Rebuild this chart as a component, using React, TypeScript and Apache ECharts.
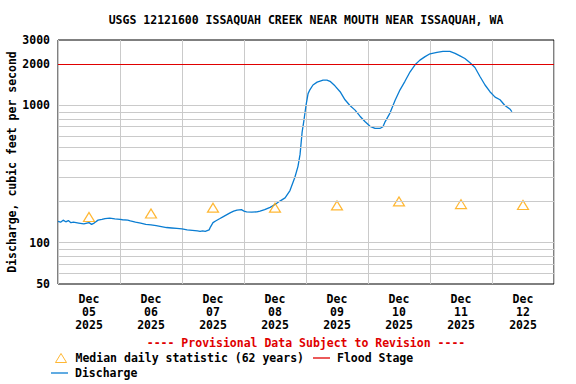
import React, { useEffect, useRef } from "react";
import * as echarts from "echarts";

const TITLE = "USGS 12121600 ISSAQUAH CREEK NEAR MOUTH NEAR ISSAQUAH, WA";
const PROVISIONAL = "---- Provisional Data Subject to Revision ----";
const Y_NAME = "Discharge, cubic feet per second";

const dayLabels = ["Dec\n05\n2025", "Dec\n06\n2025", "Dec\n07\n2025", "Dec\n08\n2025", "Dec\n09\n2025", "Dec\n10\n2025", "Dec\n11\n2025", "Dec\n12\n2025"];

// hours since Dec 05 2025 00:00
const dischargeHours = [
  0, 1, 2, 3, 4, 5, 6, 8, 10, 12, 13, 14, 15.5, 17, 18.2, 20, 22, 24, 25, 27, 28, 30, 32, 34, 36, 38, 40, 42, 44, 46, 48, 50, 52, 54, 55, 56, 57,
  58.5, 59, 60, 61, 62.7, 64, 66.6, 68, 69.3, 71, 72, 73, 75, 77, 78.2, 80, 82.1, 84, 85.9, 87.9, 89.8, 91.7, 92.9, 93.7, 94.5, 95.2, 96, 96.8,
  97.5, 98.7, 100.3, 102.6, 104.1, 105.3, 107.2, 109.2, 111.1, 113, 115, 116.9, 118.8, 120.8, 122.7, 124.6, 125.8, 126.6, 128.5, 130.5, 132.4,
  134.3, 136.3, 138.2, 140.1, 142.1, 144, 146.7, 149, 151.7, 153.7, 155.6, 157.5, 159.5, 161.4, 163.4, 165.3, 167.2, 169.2, 171.1, 173, 175, 175.7,
];
const dischargeCfs = [
  143, 141, 146, 142, 145, 140, 141, 139, 137, 140, 136, 139, 146, 148, 150, 151, 149, 148, 147, 146, 144, 141, 139, 136, 135, 133, 131, 129, 128, 127, 126, 124, 123, 122, 121, 122, 121,
  124, 130, 140, 144, 150, 155, 165, 170, 173, 174, 170, 168, 167, 168, 170, 174, 181, 190, 201, 212, 240, 300, 360, 440, 640, 780, 1000, 1220,
  1300, 1410, 1480, 1530, 1530, 1500, 1390, 1260, 1100, 1000, 925, 835, 765, 705, 680, 680, 700, 760, 880, 1090, 1300,
  1500, 1760, 1980, 2140, 2270, 2380, 2440, 2480, 2480, 2400, 2300, 2200, 2050, 1890, 1620, 1410, 1260, 1150, 1100, 1000, 940, 900,
];

const medianHours = [12, 36, 60, 84, 108, 132, 156, 180];
const medianCfs = [154, 163, 180, 180, 187, 200, 191, 188];

const floodStage = 2000;
const gridValues = [60, 70, 80, 90, 100, 200, 300, 400, 500, 600, 700, 800, 900, 1000];

const FONT = "DejaVu Sans Mono";
const BLUE = "#0a7dd2";
const ORANGE = "#ffa500";
const RED = "#e00000";
const GREY = "#cacaca";

const MEDIAN = "Median daily statistic (62 years)";

export default function App() {
  const ref = useRef<HTMLDivElement>(null);
  useEffect(() => {
    if (!ref.current) return;
    const chart = echarts.init(ref.current, null, { renderer: "svg" });
    const txt = { fontFamily: FONT, fontWeight: "bold" as const, fontSize: 11.5, color: "#000" };
    chart.setOption({
      animation: false,
      backgroundColor: "#fff",
      grid: { left: 58, right: 22, top: 40, bottom: 100, show: true, borderColor: "#000", borderWidth: 1, containLabel: false, outerBoundsMode: "none" },
      graphic: [
        { type: "text", x: 306, y: 20, style: { text: TITLE, fill: "#000", font: `bold 11.5px "${FONT}"`, textAlign: "center", textVerticalAlign: "middle" } },
        { type: "text", x: 306, y: 343, style: { text: PROVISIONAL, fill: RED, font: `bold 11.5px "${FONT}"`, textAlign: "center", textVerticalAlign: "middle" } },
      ],
      xAxis: [
        { type: "value", min: 0, max: 192, show: false },
        {
          type: "category",
          data: dayLabels,
          boundaryGap: true,
          position: "bottom",
          axisLine: { show: false },
          axisTick: { show: false },
          axisLabel: { ...txt, interval: 0, lineHeight: 13, margin: 8 },
          splitLine: { show: true, interval: 0, lineStyle: { color: GREY, width: 1 } },
        },
      ],
      yAxis: {
        type: "log",
        logBase: 10,
        min: 50,
        max: 3000,
        name: Y_NAME,
        nameLocation: "middle",
        nameRotate: 90,
        nameGap: 40,
        nameMoveOverlap: false,
        nameTextStyle: { ...txt },
        axisLine: { show: false },
        axisTick: { show: false },
        axisLabel: { ...txt, margin: 8, formatter: (v: number) => String(Math.round(v)) },
        splitLine: { show: false },
      },
      legend: [
        {
          left: 55,
          top: 352,
          padding: 0,
          itemWidth: 11,
          itemHeight: 9,
          textStyle: { ...txt, padding: [0, 0, 0, 4] },
          data: [{ name: MEDIAN, icon: "triangle", itemStyle: { color: "rgba(0,0,0,0)", borderColor: ORANGE, borderWidth: 1 } }],
        },
        {
          left: 313,
          top: 352,
          padding: 0,
          itemWidth: 17,
          itemHeight: 1.3,
          textStyle: { ...txt, padding: [0, 0, 0, 2] },
          data: [{ name: "Flood Stage", icon: "rect", itemStyle: { color: RED, borderWidth: 0 } }],
        },
        {
          left: 51,
          top: 367,
          padding: 0,
          itemWidth: 17,
          itemHeight: 1.3,
          textStyle: { ...txt, padding: [0, 0, 0, 2] },
          data: [{ name: "Discharge", icon: "rect", itemStyle: { color: BLUE, borderWidth: 0 } }],
        },
      ],
      series: [
        {
          name: "grid",
          type: "line",
          data: [],
          z: 1,
          markLine: {
            silent: true,
            symbol: "none",
            label: { show: false },
            lineStyle: { color: GREY, width: 1, type: "solid" },
            data: gridValues.map((v) => ({ yAxis: v })),
          },
        },
        {
          name: "Flood Stage",
          type: "line",
          data: [],
          z: 2,
          symbol: "none",
          itemStyle: { color: RED },
          lineStyle: { color: RED, width: 1.2 },
          markLine: {
            silent: true,
            symbol: "none",
            lineStyle: { color: RED, width: 1.2, type: "solid" },
            label: { show: true, position: "start", distance: 8, formatter: String(floodStage), ...txt },
            data: [{ yAxis: floodStage }],
          },
        },
        {
          name: "Discharge",
          type: "line",
          z: 3,
          symbol: "none",
          showSymbol: false,
          itemStyle: { color: BLUE },
          lineStyle: { color: BLUE, width: 1.3 },
          data: dischargeHours.map((h, i) => [h, dischargeCfs[i]]),
        },
        {
          name: MEDIAN,
          type: "scatter",
          z: 4,
          symbol: "triangle",
          symbolSize: [11, 9],
          itemStyle: { color: "rgba(0,0,0,0)", borderColor: ORANGE, borderWidth: 1.2 },
          data: medianHours.map((h, i) => [h, medianCfs[i]]),
        },
      ],
    });
    return () => chart.dispose();
  }, []);
  return <div ref={ref} style={{ position: "fixed", left: 0, top: 0, width: 576, height: 384 }} />;
}
